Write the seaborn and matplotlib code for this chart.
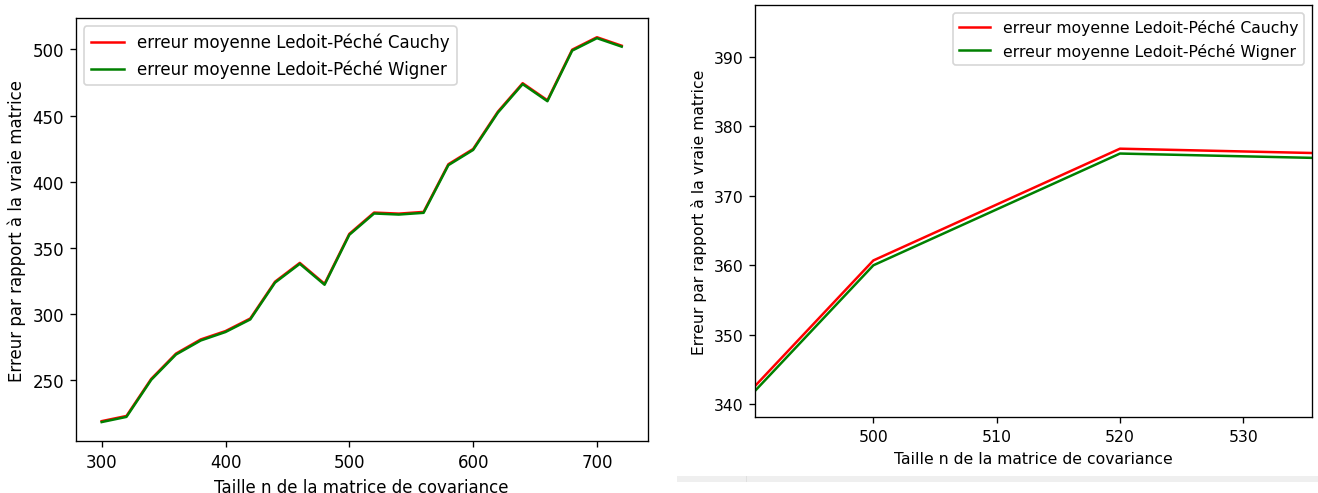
import numpy as np
import pandas as pd
import matplotlib
matplotlib.use("Agg")
import matplotlib.pyplot as plt
import seaborn as sns
from matplotlib.patches import Rectangle

# ---- data ----
taille_n = [300, 320, 340, 360, 380, 400, 420, 440, 460, 480, 500,
            520, 540, 560, 580, 600, 620, 640, 660, 680, 700, 720]
erreur_cauchy = [219.3, 223.2, 251.2, 270.3, 281.0, 287.3, 296.8, 324.6, 338.8, 323.0, 360.7,
                 376.8, 376.0, 377.3, 413.3, 424.8, 453.0, 474.5, 461.6, 499.8, 509.2, 502.8]
erreur_wigner = [218.6, 222.5, 250.5, 269.6, 280.2, 286.6, 296.1, 323.9, 338.1, 322.3, 360.0,
                 376.1, 375.3, 376.6, 412.6, 424.1, 452.3, 473.8, 460.9, 499.1, 508.5, 502.1]
label_cauchy = "erreur moyenne Ledoit-Péché Cauchy"
label_wigner = "erreur moyenne Ledoit-Péché Wigner"
xlabel = "Taille n de la matrice de covariance"
ylabel = "Erreur par rapport à la vraie matrice"

df = pd.DataFrame({"n": taille_n, "cauchy": erreur_cauchy, "wigner": erreur_wigner})

DPI = 120
fig = plt.figure(figsize=(1318 / DPI, 494 / DPI), dpi=DPI)
W, H = 1318, 494

def axes_px(l, t, r, b):
    return fig.add_axes([l / W, 1 - b / H, (r - l) / W, (b - t) / H])

ax1 = axes_px(75.7, 19, 647.7, 442.3)
ax2 = axes_px(755, 6, 1312.3, 418.3)

for ax in (ax1, ax2):
    sns.lineplot(data=df, x="n", y="cauchy", color="red", label=label_cauchy, ax=ax)
    sns.lineplot(data=df, x="n", y="wigner", color="green", label=label_wigner, ax=ax)
    ax.set_xlabel(xlabel)
    ax.set_ylabel(ylabel)

ax1.legend(loc="upper left")

fs2 = 9.4
ax2.legend(loc="upper right", fontsize=fs2)
ax2.set_xlim(490.4, 535.6)
ax2.set_ylim(338.1, 397.5)
ax2.set_xticks([500, 510, 520, 530])
ax2.set_yticks([340, 350, 360, 370, 380, 390])
for lab in ax2.get_xticklabels() + ax2.get_yticklabels():
    lab.set_fontsize(fs2)
ax2.xaxis.label.set_fontsize(fs2)
ax2.yaxis.label.set_fontsize(fs2)

# light grey band under the right panel (screenshot artifact)
fig.patches.append(Rectangle((676.7 / W, (494 - 482.7) / H), 1 - 676.7 / W, 6.0 / H,
                             transform=fig.transFigure, facecolor="#efefef",
                             edgecolor="none", zorder=-1))
fig.patches.append(Rectangle((745.5 / W, (494 - 482.7) / H), 1.0 / W, 6.0 / H,
                             transform=fig.transFigure, facecolor="#e0e0e0",
                             edgecolor="none", zorder=-1))

fig.savefig("out.png", dpi=DPI)
